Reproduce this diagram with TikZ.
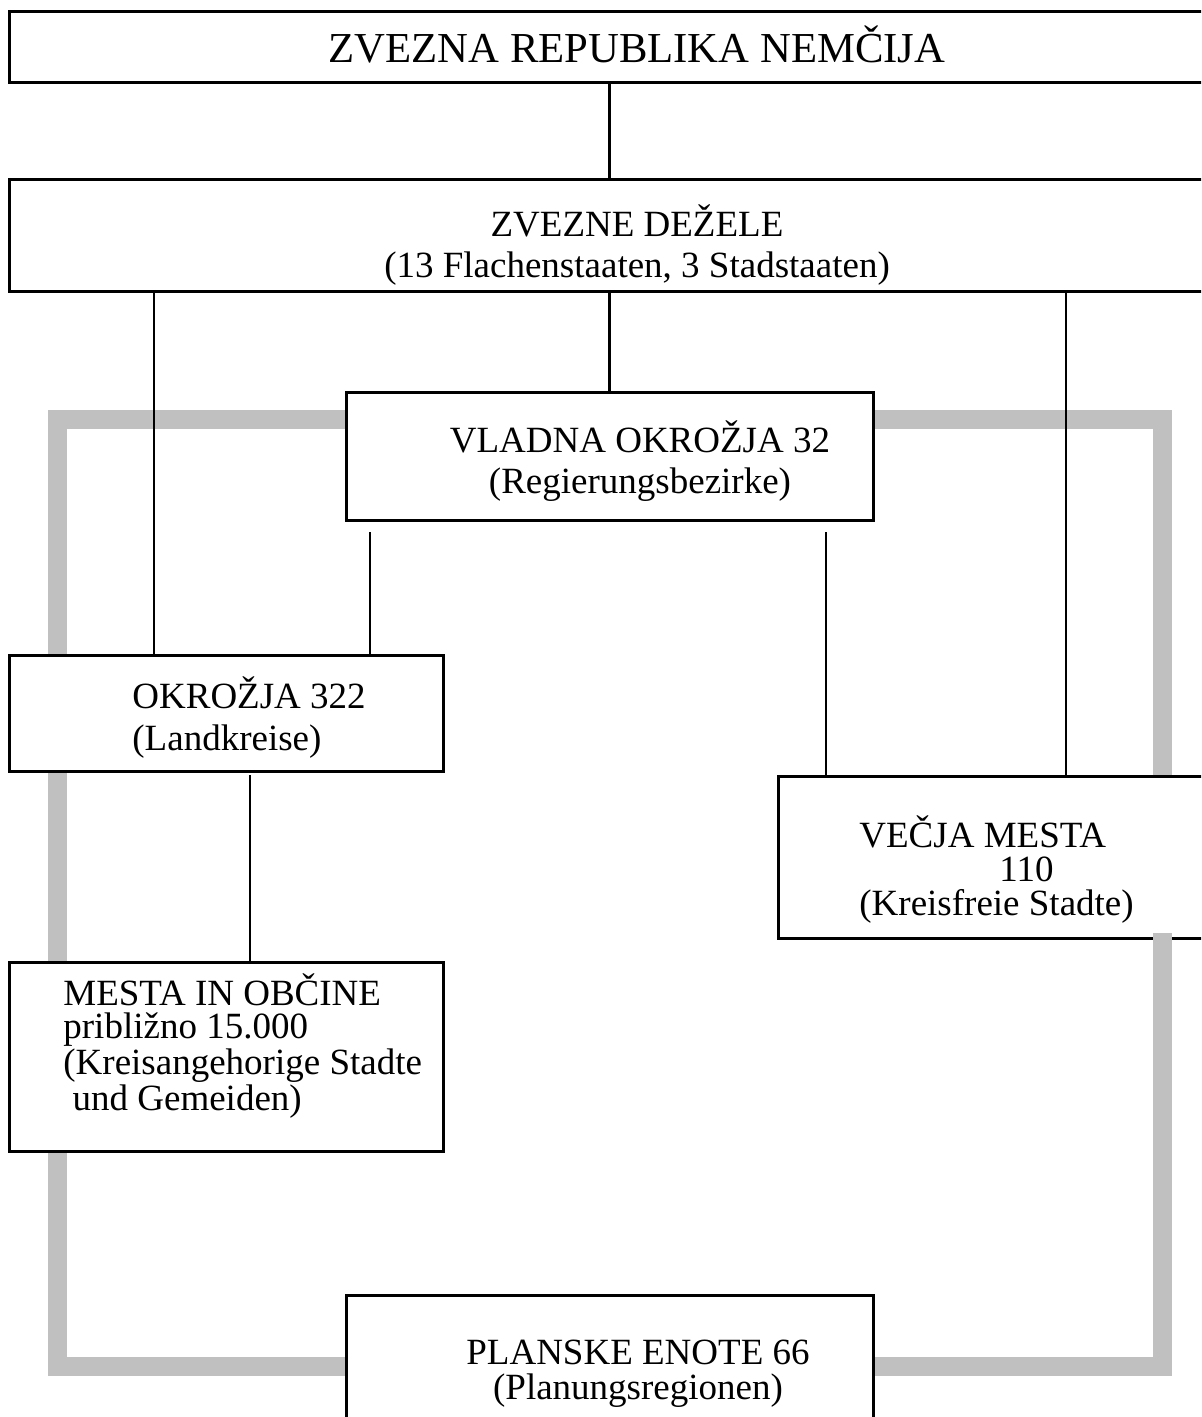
\documentclass[tikz,border=0pt]{standalone}
\usepackage{fontspec}
\setmainfont{Liberation Serif}
\usetikzlibrary{fit}
\definecolor{bandgray}{RGB}{192,192,192}

\begin{document}
\begin{tikzpicture}[x=0.5pt, y=-0.5pt, line width=1.4pt,
  box/.style={draw, line width=1.5pt, fill=white, inner sep=0pt},
  txt/.style={inner sep=0pt, anchor=base, align=center, font=\fontsize{18.5}{20.5}\selectfont},
  txtl/.style={txt, anchor=base west, align=left},
  band/.style={draw=bandgray, line width=9.5pt}]
  \clip (0,0) rectangle (1201,1417);
  % siv okvir planskih enot (zadaj)
  \draw[band] (57.5,419.5) rectangle (1162.5,1366);
  % okvirji
  \node[box, fit={(9,12) (1265,83)}] (zrn) {};
  \node[box, fit={(9,180) (1265,292)}] (dez) {};
  \node[box, fit={(346,392) (873,520)}] (vlok) {};
  \node[box, fit={(9,655) (443,771)}] (okr) {};
  \node[box, fit={(778,776) (1265,938)}] (vmes) {};
  \node[box, fit={(9,962) (443,1151)}] (mob) {};
  \node[box, fit={(346,1295) (873,1460)}] (plan) {};
  % sivi pas seže čez spodnji rob vmes
  \draw[band] (1162.5,933) -- (vmes.south -| 1162.5,0);
  % besedila (base = zadnja vrstica)
  \node[txt, font=\fontsize{21.35}{24}\selectfont] (zrn-t) at (637,63) {ZVEZNA REPUBLIKA NEMČIJA};
  \node[txt] (dez-t) at (637,278) {ZVEZNE DEŽELE\\(13 Flachenstaaten, 3 Stadstaaten)};
  \node[txt] (vlok-t) at (640,493) {VLADNA OKROŽJA 32\\(Regierungsbezirke)};
  \node[txtl, font=\fontsize{18.5}{21}\selectfont] (okr-t) at (131,750) {OKROŽJA 322\\(Landkreise)};
  \node[txtl, font=\fontsize{18.5}{17}\selectfont] (vmes-t) at (858,915) {VEČJA MESTA\\\hspace*{70pt}110\\(Kreisfreie Stadte)};
  \node[txtl, font=\fontsize{18.5}{16.67}\selectfont] (mob-t) at (62,1110) {MESTA IN OBČINE\\približno 15.000\\(Kreisangehorige Stadte\\\ und Gemeiden)};
  \node[txt, font=\fontsize{18.5}{17.5}\selectfont] (plan-t) at (638,1399) {PLANSKE ENOTE 66\\(Planungsregionen)};
  % prosti konci povezav
  \coordinate (d1) at (154,0);
  \coordinate (d3) at (1066,0);
  \coordinate (v1) at (370,532);
  \coordinate (v2) at (826,532);
  \coordinate (o1) at (250,775);
  % povezave
  \draw (vlok.north |- zrn.south) -- (vlok.north |- dez.north);
  \draw (vlok.north |- dez.south) -- (vlok.north);
  \draw (d1 |- dez.south) -- (d1 |- okr.north);
  \draw (d3 |- dez.south) -- (d3 |- vmes.north);
  \draw (v1) -- (v1 |- okr.north);
  \draw (v2) -- (v2 |- vmes.north);
  \draw (o1) -- (o1 |- mob.north);
\end{tikzpicture}
\end{document}
